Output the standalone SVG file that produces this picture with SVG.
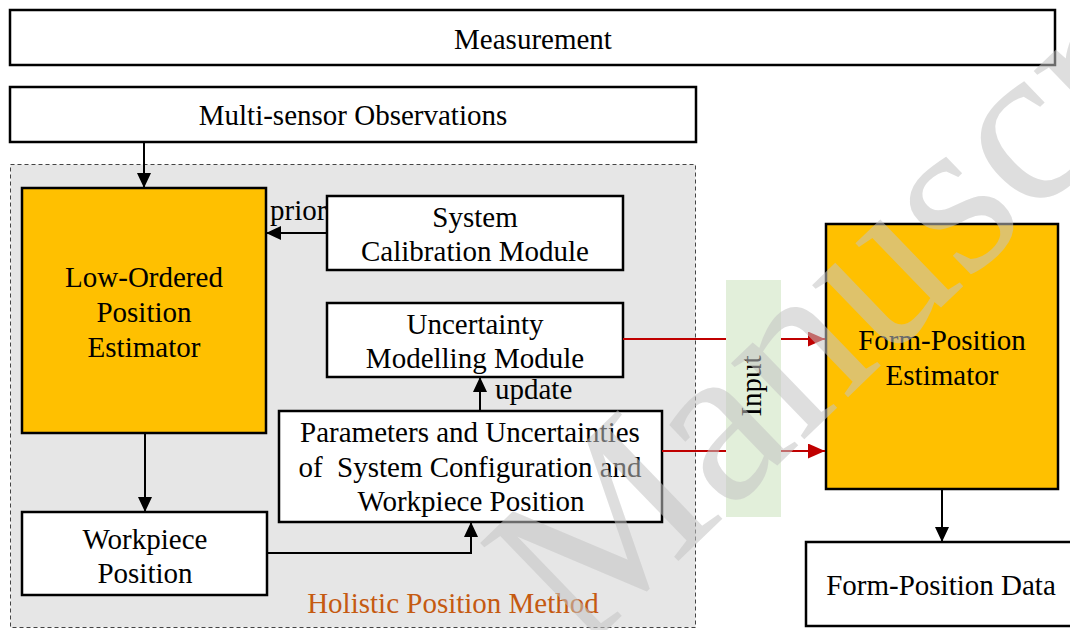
<svg xmlns="http://www.w3.org/2000/svg" width="1070" height="630" viewBox="0 0 1070 630">
  <defs>
    <marker id="ah" markerUnits="userSpaceOnUse" markerWidth="15" markerHeight="14" viewBox="0 0 15 14" refX="15" refY="7" orient="auto">
      <path d="M0,0 L15,7 L0,14 z" fill="#000"/>
    </marker>
    <marker id="ahr" markerUnits="userSpaceOnUse" markerWidth="17" markerHeight="15" viewBox="0 0 17 15" refX="17" refY="7.5" orient="auto">
      <path d="M0,0 L17,7.5 L0,15 z" fill="#C00000"/>
    </marker>
  </defs>
  <style>
    text { font-family: "Liberation Serif", "Times New Roman", serif; font-size: 29px; fill: #000; }
    .c { text-anchor: middle; }
    .box { fill: #fff; stroke: #000; stroke-width: 2.5; }
    .est { fill: #FFC000; stroke: #000; stroke-width: 2.5; }
    .conn { fill: none; stroke: #000; stroke-width: 2; }
    .red { fill: none; stroke: #C00000; stroke-width: 2; }
  </style>
  <rect x="0" y="0" width="1070" height="630" fill="#fff"/>

  <g id="holistic-region">
    <rect x="10.5" y="164.5" width="685" height="463" fill="#E6E6E6" stroke="#444" stroke-width="1" stroke-dasharray="4 3"/>
    <text class="c" x="453" y="613" style="fill:#C55A11">Holistic Position Method</text>
  </g>

  <g id="measurement">
    <rect class="box" x="10" y="10" width="1045" height="55"/>
    <text class="c" x="533" y="49">Measurement</text>
  </g>

  <g id="multi-sensor">
    <rect class="box" x="10" y="87" width="686" height="55"/>
    <text class="c" x="353" y="125">Multi-sensor Observations</text>
  </g>

  <g id="low-ordered">
    <rect class="est" x="22" y="188" width="244" height="245"/>
    <text class="c" x="144" y="287">Low-Ordered</text>
    <text class="c" x="144" y="322">Position</text>
    <text class="c" x="144" y="357">Estimator</text>
  </g>

  <g id="system-calibration">
    <rect class="box" x="327" y="196" width="296" height="74"/>
    <text class="c" x="475" y="227">System</text>
    <text class="c" x="475" y="261">Calibration Module</text>
  </g>

  <g id="uncertainty-modelling">
    <rect class="box" x="327" y="303" width="296" height="74"/>
    <text class="c" x="475" y="334">Uncertainty</text>
    <text class="c" x="475" y="368">Modelling Module</text>
  </g>

  <g id="parameters">
    <rect class="box" x="279" y="411" width="383" height="111"/>
    <text class="c" x="470" y="442">Parameters and Uncertainties</text>
    <text class="c" x="470" y="477" xml:space="preserve">of  System Configuration and</text>
    <text class="c" x="471" y="511">Workpiece Position</text>
  </g>

  <g id="workpiece-position">
    <rect class="box" x="22" y="512" width="245" height="83"/>
    <text class="c" x="145" y="549">Workpiece</text>
    <text class="c" x="145" y="583">Position</text>
  </g>

  <g id="form-position-estimator">
    <rect class="est" x="826" y="224" width="232" height="265"/>
    <text class="c" x="942" y="350">Form-Position</text>
    <text class="c" x="942" y="385">Estimator</text>
  </g>

  <g id="form-position-data">
    <rect class="box" x="806" y="542" width="270" height="84"/>
    <text class="c" x="941" y="595">Form-Position Data</text>
  </g>

  <g id="connectors">
    <path class="conn" d="M144,142 L144,188" marker-end="url(#ah)"/>
    <path class="conn" d="M327,233 L266,233" marker-end="url(#ah)"/>
    <text x="270" y="220">prior</text>
    <path class="conn" d="M480,411 L480,377" marker-end="url(#ah)"/>
    <text x="495" y="399">update</text>
    <path class="conn" d="M145,433 L145,512" marker-end="url(#ah)"/>
    <path class="conn" d="M267,553 L471,553 L471,522" marker-end="url(#ah)"/>
    <path class="red" d="M623,339 L825,339" marker-end="url(#ahr)"/>
    <path class="red" d="M662,451 L825,451" marker-end="url(#ahr)"/>
    <path class="conn" d="M942,489 L942,542" marker-end="url(#ah)"/>
  </g>

  <g id="input">
    <rect x="726" y="280" width="55" height="237" fill="#E2EFDA"/>
    <text class="c" transform="translate(751,386) rotate(-90)" x="0" y="10">Input</text>
  </g>

  <g id="watermark" opacity="0.55">
    <text transform="translate(580,656) rotate(-44)" x="0" y="0" style="font-size:230px;fill:#C4C4C4">Manuscript</text>
  </g>
</svg>
